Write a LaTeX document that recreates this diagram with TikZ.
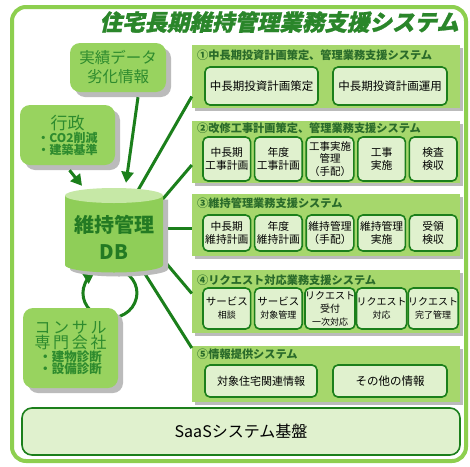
\documentclass[tikz,border=0pt]{standalone}
\usepackage{fontspec}
\newfontfamily\cjk{Noto Sans CJK JP}
\newfontfamily\cjkslant[FakeSlant=0.22,BoldFeatures={FakeBold=1.2}]{Noto Sans CJK JP}
\usetikzlibrary{arrows.meta,shadows}
\definecolor{frameg}{HTML}{8DCF4F}
\definecolor{panelg}{HTML}{A6D76C}
\definecolor{boxf}{HTML}{E0F1CE}
\definecolor{dkg}{HTML}{1B7F1B}
\definecolor{leftg}{HTML}{98D35F}
\definecolor{txtg}{HTML}{2E8B2E}
\definecolor{shad}{HTML}{BBBBBB}
\definecolor{hdrg}{HTML}{2A6B2A}
\definecolor{titleg}{HTML}{2A862A}
\definecolor{dbbody}{HTML}{8FCE58}
\definecolor{dbtop}{HTML}{C6E8A6}
\definecolor{dbtext}{HTML}{237A23}
\begin{document}
\begin{tikzpicture}[x=1pt,y=-1pt,font=\cjk,
  panel/.style={fill=panelg,draw=none,minimum width=268pt,inner sep=0pt,
    drop shadow={shadow xshift=3pt,shadow yshift=-3pt,fill=shad,opacity=1}},
  ibox/.style={draw=dkg,line width=1.6pt,fill=boxf,rounded corners=5pt,align=center,
    inner sep=0pt,font=\cjk\fontsize{10.8}{13}\selectfont},
  wbox/.style={ibox,minimum width=47.6pt},
  lbox/.style={fill=leftg,rounded corners=10pt,inner sep=0pt,align=center,text=txtg,
    drop shadow={shadow xshift=5pt,shadow yshift=-5pt,fill=shad,opacity=1}},
  hdr/.style={anchor=west,inner sep=0pt,text=hdrg,font=\cjk\bfseries\fontsize{11.2}{13}\selectfont},
  conn/.style={draw=dkg,line width=3pt},
  arr/.style={conn,-{Triangle[length=11pt,width=12pt]}},
  big/.style={font=\cjk\fontsize{11.5}{14}\selectfont},
]
\useasboundingbox (0,0) rectangle (470,466);
\fill[white] (0,0) rectangle (470,466);
% outer frame
\draw[frameg,line width=4pt,rounded corners=14pt] (12,7) rectangle (466,461);
% title
\node[anchor=east,inner sep=0pt,text=titleg,font=\cjkslant\bfseries\fontsize{22.5}{24}\selectfont] (title) at (459,22) {住宅長期維持管理業務支援システム};

% panel 1
\node[panel,minimum height=63pt] (p1) at (326,76.5) {};
\node[hdr] (h1) at (197,55) {①中長期投資計画策定、管理業務支援システム};
\node[ibox,big,minimum width=113pt,minimum height=38pt] (b11) at (261.5,86) {中長期投資計画策定};
\node[ibox,big,minimum width=114pt,minimum height=38pt] (b12) at (390,86) {中長期投資計画運用};

% panel 2
\node[panel,minimum height=62pt] (p2) at (326,152) {};
\node[hdr] (h2) at (197,128) {②改修工事計画策定、管理業務支援システム};
\node[wbox,minimum height=44pt] (b21) at (226.8,159) {中長期\\工事計画};
\node[wbox,minimum height=44pt] (b22) at (278.4,159) {年度\\工事計画};
\node[wbox,minimum height=44pt,font=\cjk\fontsize{10.5}{12.5}\selectfont] (b23) at (330,159) {工事実施\\管理\\（手配）};
\node[wbox,minimum height=44pt] (b24) at (381.6,159) {工事\\実施};
\node[wbox,minimum height=44pt] (b25) at (433.2,159) {検査\\検収};

% panel 3
\node[panel,minimum height=62pt] (p3) at (326,225) {};
\node[hdr] (h3) at (197,203) {③維持管理業務支援システム};
\node[wbox,minimum height=36pt] (b31) at (226.8,233) {中長期\\維持計画};
\node[wbox,minimum height=36pt] (b32) at (278.4,233) {年度\\維持計画};
\node[wbox,minimum height=36pt] (b33) at (330,233) {維持管理\\（手配）};
\node[wbox,minimum height=36pt] (b34) at (381.6,233) {維持管理\\実施};
\node[wbox,minimum height=36pt] (b35) at (433.2,233) {受領\\検収};

% panel 4
\node[panel,minimum height=63pt] (p4) at (326,301.5) {};
\node[hdr] (h4) at (197,280) {④リクエスト対応業務支援システム};
\node[wbox,minimum height=41pt] (b41) at (226.8,308.5) {{\fontsize{10.5}{13}\selectfont サービス}\\{\fontsize{9}{11}\selectfont 相談}};
\node[wbox,minimum height=41pt] (b42) at (278.4,308.5) {{\fontsize{10.5}{13}\selectfont サービス}\\{\fontsize{9}{11}\selectfont 対象管理}};
\node[wbox,minimum height=41pt] (b43) at (330,308.5) {{\fontsize{10}{11.5}\selectfont リクエスト}\\{\fontsize{10}{11.5}\selectfont 受付}\\{\fontsize{9}{11}\selectfont 一次対応}};
\node[wbox,minimum height=41pt] (b44) at (381.6,308.5) {{\fontsize{10}{13}\selectfont リクエスト}\\{\fontsize{9}{11}\selectfont 対応}};
\node[wbox,minimum height=41pt] (b45) at (433.2,308.5) {{\fontsize{10}{13}\selectfont リクエスト}\\{\fontsize{9}{11}\selectfont 完了管理}};

% panel 5
\node[panel,minimum height=56pt] (p5) at (326,374) {};
\node[hdr] (h5) at (197,354) {⑤情報提供システム};
\node[ibox,minimum width=112pt,minimum height=32pt,font=\cjk\fontsize{11}{13}\selectfont] (b51) at (261,381) {対象住宅関連情報};
\node[ibox,minimum width=114pt,minimum height=32pt,font=\cjk\fontsize{11.5}{13}\selectfont] (b52) at (390,381) {その他の情報};

% SaaS
\node[draw=dkg,line width=1.6pt,fill=boxf,rounded corners=10pt,minimum width=438pt,minimum height=47pt,
  font=\cjk\fontsize{16}{18}\selectfont] (saas) at (241,431.5) {SaaSシステム基盤};

% DB placeholder
\node[minimum width=98pt,minimum height=84pt,inner sep=0pt] (db) at (114,230) {};

% lines DB -> panels
\draw[conn] (137,192) -- ([yshift=-20pt]p1.west);
\draw[conn] (156,207) -- ([yshift=-13pt]p2.west);
\draw[conn] (150,228) -- (p3.west |- 0,228);
\draw[conn] (155,250) -- ([yshift=8pt]p4.west);
\draw[conn] (140,266) -- ([yshift=26pt]p5.west);

% loop
\draw[arr] (120.5,270) arc[start angle=-67,end angle=235,x radius=27,y radius=25];

% cylinder
\fill[shad] (70,199.5) -- (70,269) arc[start angle=180,end angle=0,x radius=49,y radius=7.5] -- (168,199.5) -- cycle;
\fill[dbbody] (65,195.5) -- (65,265) arc[start angle=180,end angle=0,x radius=49,y radius=7.5] -- (163,195.5) -- cycle;
\fill[dbtop] (114,195.5) ellipse [x radius=49,y radius=7.5];
\node[text=dbtext,align=center,font=\cjk\bfseries\fontsize{20}{27}\selectfont] (dbt) at (db.center) [yshift=-7pt] {維持管理\\DB};

% left boxes
\node[lbox,minimum width=96pt,minimum height=49pt,font=\cjk\fontsize{15.5}{19}\selectfont] (jd) at (118,67.5) {実績データ\\劣化情報};
\node[lbox,minimum width=95pt,minimum height=60pt] (gy) at (67.5,135) {{\fontsize{17}{18}\selectfont 行政}\\[1pt]{\bfseries\fontsize{12}{17}\selectfont ・CO2削減}\\{\bfseries\fontsize{12}{14}\selectfont ・建築基準}};
\node[lbox,minimum width=95pt,minimum height=80pt] (ks) at (70.5,348) {{\fontsize{16}{20}\selectfont コ\,ン\,サ\,ル}\\{\fontsize{16}{21}\selectfont 専\,門\,会\,社}\\{\bfseries\fontsize{12.5}{18}\selectfont ・建物診断}\\{\bfseries\fontsize{12.5}{14}\selectfont ・設備診断}};

% arrows
\draw[arr] ([xshift=20pt,yshift=-5pt]jd.south) -- ([xshift=12pt,yshift=5pt]db.north);
\draw[arr] ([xshift=2pt,yshift=-5pt]gy.south) -- ([xshift=-32pt,yshift=2pt]db.north);
\end{tikzpicture}
\end{document}
